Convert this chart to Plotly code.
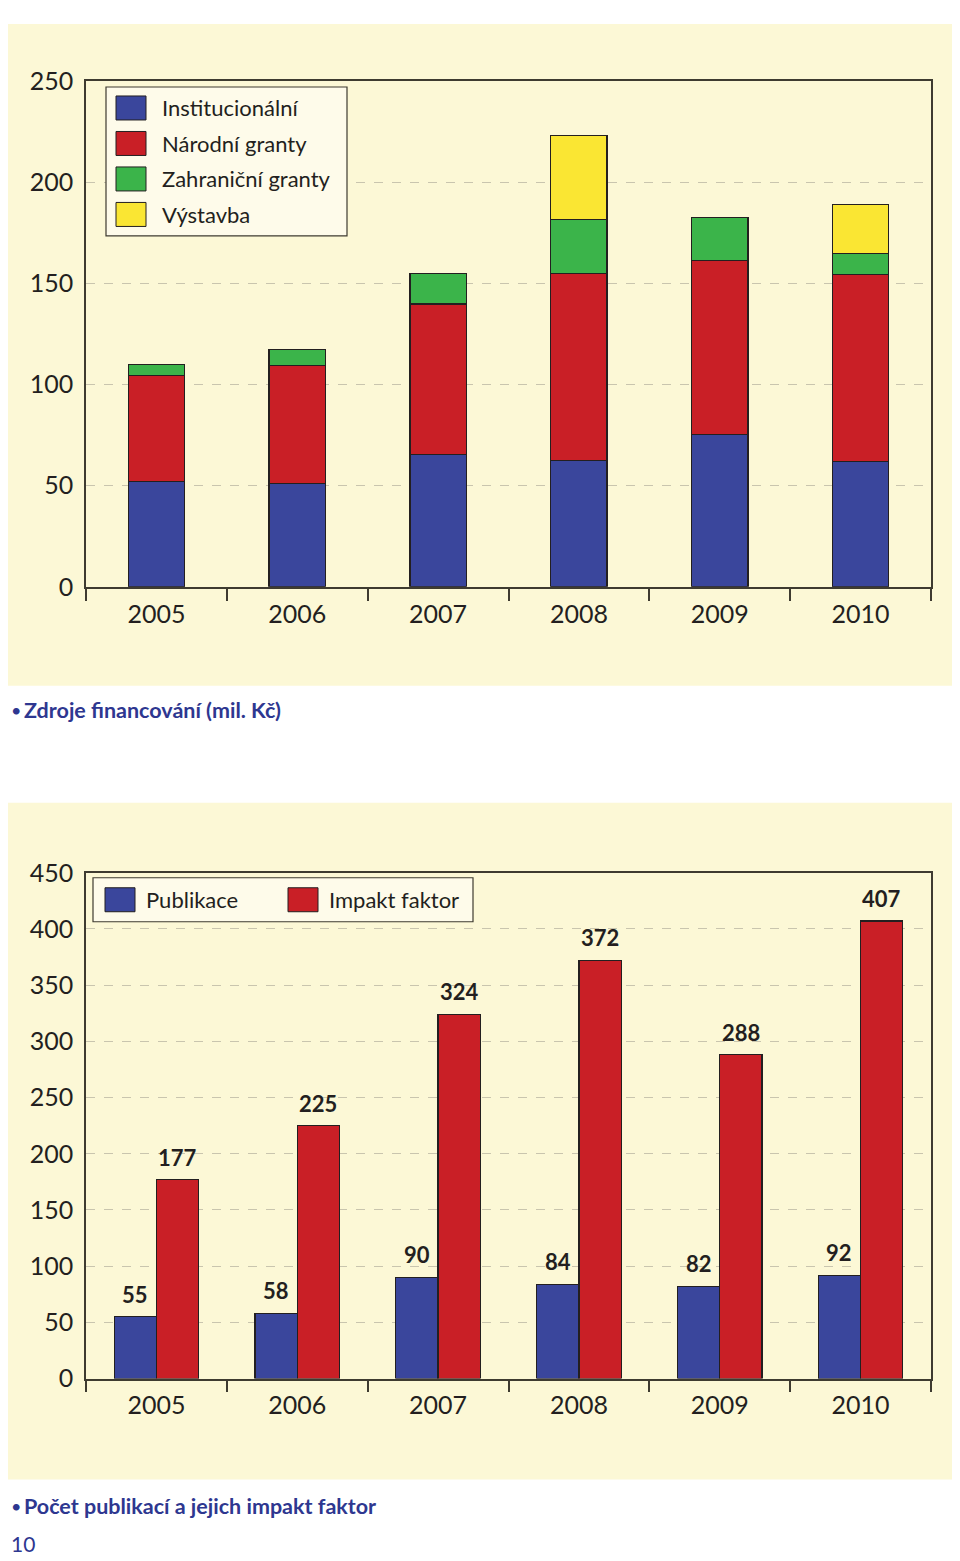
import plotly.graph_objects as go

# ---------------- data ----------------
years = ["2005", "2006", "2007", "2008", "2009", "2010"]

# Zdroje financování (mil. Kč)
institucionalni = [52.0, 51.0, 65.4, 62.4, 75.4, 62.1]
narodni_granty = [52.3, 58.2, 74.4, 92.6, 85.8, 92.2]
zahranicni_granty = [5.4, 7.9, 14.9, 26.7, 21.5, 10.6]
vystavba = [None, None, None, 41.5, None, 24.0]
funding_names = ["Institucionální", "Národní granty", "Zahraniční granty", "Výstavba"]

# Počet publikací a jejich impakt faktor
publikace = [55, 58, 90, 84, 82, 92]
impakt_faktor = [177, 225, 324, 372, 288, 407]
pub_names = ["Publikace", "Impakt faktor"]

top_ticks = [0, 50, 100, 150, 200, 250]
bottom_ticks = [0, 50, 100, 150, 200, 250, 300, 350, 400, 450]

# ---------------- style ----------------
FW, FH = 944, 1556          # figure size
OX, OY, SY = 8, 23, 0.981   # how the figure lands in the final picture
BLUE = "#3A469C"
RED = "#C91F26"
GREEN = "#3BB44A"
YELLOW = "#FAE633"
BEIGE = "#FCF8D6"
LEGBG = "#FEFBEA"
DARK = "#231F20"
FRAME = "#3E3B30"
GRID = "#C9C5AE"
CAPTION = "#2E3790"
FONT = "Lato"


def px(x):
    return min(max((x - OX) / FW, 0), 1)


def py(y):
    return min(max(1 - ((y - OY) / SY) / FH, 0), 1)


PLOT_L, PLOT_R = 86, 931
CAT_PX = (PLOT_R - PLOT_L) / len(years)

fig = go.Figure()

funding = [institucionalni, narodni_granty, zahranicni_granty, vystavba]
fcolors = [BLUE, RED, GREEN, YELLOW]
for name, vals, col in zip(funding_names, funding, fcolors):
    fig.add_trace(go.Bar(
        x=years, y=vals, name=name, width=0.4,
        marker=dict(color=col, line=dict(color=DARK, width=1.2)),
        xaxis="x", yaxis="y", showlegend=False, offsetgroup="f",
    ))

annotations = []
for name, vals, col, off in zip(pub_names, [publikace, impakt_faktor], [BLUE, RED], [-0.3, 0.0]):
    fig.add_trace(go.Bar(
        x=years, y=vals, name=name, width=0.3, offset=off, offsetgroup=name,
        marker=dict(color=col, line=dict(color=DARK, width=1.2)),
        xaxis="x2", yaxis="y2", showlegend=False,
    ))
    for i, v in enumerate(vals):
        annotations.append(dict(
            x=i + off + 0.15, y=v, xref="x2", yref="y2", text=str(v), showarrow=False,
            xanchor="center", yanchor="bottom", yshift=7,
            font=dict(family=FONT, size=22, color=DARK, weight="bold"),
        ))


def xaxis_cfg(dom, anchor):
    return dict(
        domain=dom, anchor=anchor, type="category", range=[-0.5, 5.5],
        tickson="boundaries", ticks="outside", ticklen=12, tickwidth=1.5,
        tickcolor=FRAME, showline=True, mirror=True, linecolor=FRAME,
        linewidth=1.5, showgrid=False, zeroline=False, ticklabelstandoff=4,
        tickfont=dict(family=FONT, size=25, color=DARK),
    )


def yaxis_cfg(dom, anchor, rng, tv):
    return dict(
        domain=dom, anchor=anchor, range=rng, tickvals=tv,
        showgrid=True, gridcolor=GRID, griddash="dash", gridwidth=1,
        showline=True, mirror=True, linecolor=FRAME, linewidth=1.5,
        ticks="", zeroline=False, ticklabelstandoff=6,
        tickfont=dict(family=FONT, size=25, color=DARK),
    )


shapes = [
    dict(type="rect", xref="paper", yref="paper", x0=px(8), x1=px(956),
         y0=py(685), y1=py(8), fillcolor=BEIGE, line=dict(width=0), layer="below"),
    dict(type="rect", xref="paper", yref="paper", x0=px(8), x1=px(956),
         y0=py(1479), y1=py(802), fillcolor=BEIGE, line=dict(width=0), layer="below"),
    # legend boxes
    dict(type="rect", xref="paper", yref="paper", x0=px(106), x1=px(347),
         y0=py(235), y1=py(86), fillcolor=LEGBG, line=dict(color=FRAME, width=1.2), layer="above"),
    dict(type="rect", xref="paper", yref="paper", x0=px(93), x1=px(473),
         y0=py(921), y1=py(877), fillcolor=LEGBG, line=dict(color=FRAME, width=1.2), layer="above"),
]

# top legend (vertical)
for i, (name, col) in enumerate(zip(funding_names, fcolors)):
    cy = 107 + i * 35.5
    shapes.append(dict(type="rect", xref="paper", yref="paper", x0=px(116), x1=px(146),
                       y0=py(cy + 12), y1=py(cy - 12), fillcolor=col,
                       line=dict(color=DARK, width=1), layer="above"))
    annotations.append(dict(xref="paper", yref="paper", x=px(160), y=py(cy), text=name,
                            showarrow=False, xanchor="left", yanchor="middle",
                            font=dict(family=FONT, size=22, color=DARK)))

# bottom legend (horizontal)
for name, col, sx in zip(pub_names, [BLUE, RED], [105, 288]):
    cy = 899
    shapes.append(dict(type="rect", xref="paper", yref="paper", x0=px(sx), x1=px(sx + 30),
                       y0=py(cy + 12), y1=py(cy - 12), fillcolor=col,
                       line=dict(color=DARK, width=1), layer="above"))
    annotations.append(dict(xref="paper", yref="paper", x=px(sx + 39), y=py(cy), text=name,
                            showarrow=False, xanchor="left", yanchor="middle",
                            font=dict(family=FONT, size=22, color=DARK)))

# captions
for text, cy in [("Zdroje financování (mil. Kč)", 709), ("Počet publikací a jejich impakt faktor", 1505)]:
    annotations.append(dict(xref="paper", yref="paper", x=px(9), y=py(cy), text="•",
                            showarrow=False, xanchor="left", yanchor="middle",
                            font=dict(family=FONT, size=18, color=CAPTION)))
    annotations.append(dict(xref="paper", yref="paper", x=px(22), y=py(cy), text=text,
                            showarrow=False, xanchor="left", yanchor="middle",
                            font=dict(family=FONT, size=21.5, color=CAPTION, weight="bold")))
annotations.append(dict(xref="paper", yref="paper", x=px(9), y=py(1543), text="10",
                        showarrow=False, xanchor="left", yanchor="middle",
                        font=dict(family=FONT, size=21, color=CAPTION)))

fig.update_layout(
    width=FW, height=FH, margin=dict(l=0, r=0, t=0, b=0),
    paper_bgcolor="white", plot_bgcolor=BEIGE,
    barmode="stack", showlegend=False,
    xaxis=xaxis_cfg([px(PLOT_L), px(PLOT_R)], "y"),
    yaxis=yaxis_cfg([py(586), py(80)], "x", [0, 250], top_ticks),
    xaxis2=xaxis_cfg([px(PLOT_L), px(PLOT_R)], "y2"),
    yaxis2=yaxis_cfg([py(1378), py(872)], "x2", [0, 450], bottom_ticks),
    shapes=shapes, annotations=annotations,
    font=dict(family=FONT, color=DARK),
)

fig.write_html("out.html")
